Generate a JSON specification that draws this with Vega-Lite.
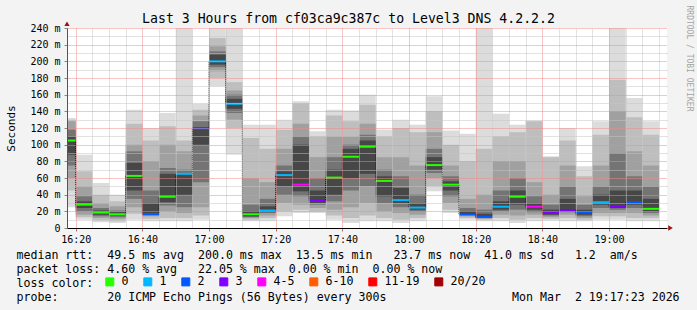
{
  "$schema": "https://vega.github.io/schema/vega-lite/v6.json",
  "width": 600,
  "height": 200,
  "autosize": {"type": "none"},
  "padding": {"left": 67, "top": 28, "right": 30, "bottom": 82},
  "background": "#f3f3f3",
  "config": {
    "view": {"stroke": null, "fill": "#ffffff"},
    "font": "DejaVu Sans Mono"
  },
  "title": {
    "text": "Last 3 Hours from cf03ca9c387c to Level3 DNS 4.2.2.2",
    "font": "DejaVu Sans Mono",
    "fontSize": 13.2,
    "fontWeight": "normal",
    "color": "#000000",
    "anchor": "middle",
    "baseline": "alphabetic",
    "dx": -18.5,
    "dy": 31.5,
    "offset": 0
  },
  "data": {
    "format": {"parse": {"t": "date", "e": "date"}},
    "values": [
      {"t": "2026-03-02T16:15", "e": "2026-03-02T16:20", "med": 105, "loss": "0", "l1": 25, "h1": 132, "l2": 45, "h2": 130, "l3": 60, "h3": 128, "l4": 75, "h4": 118, "l5": 88, "h5": 110},
      {"t": "2026-03-02T16:20", "e": "2026-03-02T16:25", "med": 28, "loss": "0", "l1": 10, "h1": 88, "l2": 13, "h2": 68, "l3": 16, "h3": 50, "l4": 20, "h4": 38, "l5": 24, "h5": 32},
      {"t": "2026-03-02T16:25", "e": "2026-03-02T16:30", "med": 18.5, "loss": "0", "l1": 7, "h1": 54, "l2": 9, "h2": 40, "l3": 12, "h3": 30, "l4": 14, "h4": 24, "l5": 16, "h5": 21},
      {"t": "2026-03-02T16:30", "e": "2026-03-02T16:35", "med": 16.5, "loss": "0", "l1": 6, "h1": 40, "l2": 8, "h2": 32, "l3": 11, "h3": 26, "l4": 13, "h4": 21, "l5": 15, "h5": 19},
      {"t": "2026-03-02T16:35", "e": "2026-03-02T16:40", "med": 62.5, "loss": "0", "l1": 10, "h1": 142, "l2": 17, "h2": 125, "l3": 25, "h3": 100, "l4": 35, "h4": 92, "l5": 45, "h5": 78},
      {"t": "2026-03-02T16:40", "e": "2026-03-02T16:45", "med": 16.5, "loss": "2", "l1": 8, "h1": 120, "l2": 11, "h2": 105, "l3": 14, "h3": 80, "l4": 16, "h4": 45, "l5": 18, "h5": 30},
      {"t": "2026-03-02T16:45", "e": "2026-03-02T16:50", "med": 37.5, "loss": "0", "l1": 8, "h1": 138, "l2": 12, "h2": 122, "l3": 20, "h3": 100, "l4": 27, "h4": 72, "l5": 31, "h5": 65},
      {"t": "2026-03-02T16:50", "e": "2026-03-02T16:55", "med": 65, "loss": "1", "l1": 8, "h1": 240, "l2": 12, "h2": 105, "l3": 18, "h3": 92, "l4": 25, "h4": 70, "l5": 40, "h5": 66},
      {"t": "2026-03-02T16:55", "e": "2026-03-02T17:00", "med": 119, "loss": "2", "l1": 10, "h1": 149, "l2": 15, "h2": 142, "l3": 25, "h3": 135, "l4": 55, "h4": 128, "l5": 100, "h5": 121},
      {"t": "2026-03-02T17:00", "e": "2026-03-02T17:05", "med": 200, "loss": "1", "l1": 170, "h1": 240, "l2": 180, "h2": 228, "l3": 188, "h3": 218, "l4": 193, "h4": 212, "l5": 196, "h5": 208},
      {"t": "2026-03-02T17:05", "e": "2026-03-02T17:10", "med": 149, "loss": "1", "l1": 88, "h1": 240, "l2": 120, "h2": 175, "l3": 130, "h3": 165, "l4": 138, "h4": 160, "l5": 143, "h5": 155},
      {"t": "2026-03-02T17:10", "e": "2026-03-02T17:15", "med": 16.5, "loss": "0", "l1": 8, "h1": 124, "l2": 10, "h2": 108, "l3": 12, "h3": 60, "l4": 13, "h4": 28, "l5": 14, "h5": 20},
      {"t": "2026-03-02T17:15", "e": "2026-03-02T17:20", "med": 21, "loss": "1", "l1": 8, "h1": 124, "l2": 12, "h2": 95, "l3": 15, "h3": 55, "l4": 18, "h4": 35, "l5": 19, "h5": 26},
      {"t": "2026-03-02T17:20", "e": "2026-03-02T17:25", "med": 63.5, "loss": "1", "l1": 14, "h1": 130, "l2": 20, "h2": 118, "l3": 30, "h3": 95, "l4": 40, "h4": 75, "l5": 50, "h5": 68},
      {"t": "2026-03-02T17:25", "e": "2026-03-02T17:30", "med": 52, "loss": "4-5", "l1": 18, "h1": 152, "l2": 22, "h2": 150, "l3": 28, "h3": 125, "l4": 38, "h4": 110, "l5": 44, "h5": 100},
      {"t": "2026-03-02T17:30", "e": "2026-03-02T17:35", "med": 33, "loss": "3", "l1": 18, "h1": 116, "l2": 20, "h2": 110, "l3": 24, "h3": 85, "l4": 28, "h4": 60, "l5": 30, "h5": 45},
      {"t": "2026-03-02T17:35", "e": "2026-03-02T17:40", "med": 60.5, "loss": "0", "l1": 10, "h1": 142, "l2": 15, "h2": 135, "l3": 22, "h3": 110, "l4": 32, "h4": 85, "l5": 40, "h5": 70},
      {"t": "2026-03-02T17:40", "e": "2026-03-02T17:45", "med": 85.5, "loss": "0", "l1": 6, "h1": 141, "l2": 12, "h2": 128, "l3": 25, "h3": 110, "l4": 45, "h4": 100, "l5": 60, "h5": 95},
      {"t": "2026-03-02T17:45", "e": "2026-03-02T17:50", "med": 97.5, "loss": "0", "l1": 8, "h1": 160, "l2": 15, "h2": 148, "l3": 30, "h3": 125, "l4": 50, "h4": 112, "l5": 65, "h5": 105},
      {"t": "2026-03-02T17:50", "e": "2026-03-02T17:55", "med": 56.5, "loss": "0", "l1": 8, "h1": 118, "l2": 12, "h2": 110, "l3": 20, "h3": 85, "l4": 30, "h4": 70, "l5": 38, "h5": 62},
      {"t": "2026-03-02T17:55", "e": "2026-03-02T18:00", "med": 33.5, "loss": "1", "l1": 6, "h1": 130, "l2": 10, "h2": 120, "l3": 18, "h3": 85, "l4": 25, "h4": 62, "l5": 30, "h5": 48},
      {"t": "2026-03-02T18:00", "e": "2026-03-02T18:05", "med": 24.5, "loss": "1", "l1": 8, "h1": 124, "l2": 12, "h2": 115, "l3": 16, "h3": 75, "l4": 20, "h4": 40, "l5": 22, "h5": 30},
      {"t": "2026-03-02T18:05", "e": "2026-03-02T18:10", "med": 75.5, "loss": "0", "l1": 44, "h1": 158, "l2": 50, "h2": 140, "l3": 60, "h3": 115, "l4": 66, "h4": 95, "l5": 70, "h5": 85},
      {"t": "2026-03-02T18:10", "e": "2026-03-02T18:15", "med": 52, "loss": "0", "l1": 18, "h1": 117, "l2": 22, "h2": 100, "l3": 30, "h3": 75, "l4": 38, "h4": 62, "l5": 45, "h5": 56},
      {"t": "2026-03-02T18:15", "e": "2026-03-02T18:20", "med": 16.5, "loss": "2", "l1": 10, "h1": 113, "l2": 12, "h2": 80, "l3": 14, "h3": 35, "l4": 15, "h4": 24, "l5": 16, "h5": 20},
      {"t": "2026-03-02T18:20", "e": "2026-03-02T18:25", "med": 13.5, "loss": "2", "l1": 8, "h1": 240, "l2": 10, "h2": 95, "l3": 11, "h3": 40, "l4": 12, "h4": 22, "l5": 13, "h5": 17},
      {"t": "2026-03-02T18:25", "e": "2026-03-02T18:30", "med": 25.5, "loss": "1", "l1": 8, "h1": 137, "l2": 12, "h2": 110, "l3": 16, "h3": 80, "l4": 20, "h4": 45, "l5": 22, "h5": 32},
      {"t": "2026-03-02T18:30", "e": "2026-03-02T18:35", "med": 37.5, "loss": "0", "l1": 6, "h1": 124, "l2": 10, "h2": 115, "l3": 15, "h3": 80, "l4": 22, "h4": 60, "l5": 28, "h5": 45},
      {"t": "2026-03-02T18:35", "e": "2026-03-02T18:40", "med": 25.5, "loss": "4-5", "l1": 8, "h1": 129, "l2": 12, "h2": 128, "l3": 16, "h3": 55, "l4": 19, "h4": 38, "l5": 22, "h5": 30},
      {"t": "2026-03-02T18:40", "e": "2026-03-02T18:45", "med": 18.5, "loss": "3", "l1": 9, "h1": 86, "l2": 11, "h2": 85, "l3": 13, "h3": 40, "l4": 15, "h4": 28, "l5": 16, "h5": 22},
      {"t": "2026-03-02T18:45", "e": "2026-03-02T18:50", "med": 21.5, "loss": "3", "l1": 8, "h1": 120, "l2": 12, "h2": 105, "l3": 16, "h3": 75, "l4": 19, "h4": 50, "l5": 20, "h5": 35},
      {"t": "2026-03-02T18:50", "e": "2026-03-02T18:55", "med": 18.5, "loss": "2", "l1": 8, "h1": 74, "l2": 10, "h2": 62, "l3": 12, "h3": 38, "l4": 14, "h4": 28, "l5": 16, "h5": 22},
      {"t": "2026-03-02T18:55", "e": "2026-03-02T19:00", "med": 31, "loss": "1", "l1": 10, "h1": 128, "l2": 14, "h2": 112, "l3": 18, "h3": 75, "l4": 24, "h4": 50, "l5": 28, "h5": 40},
      {"t": "2026-03-02T19:00", "e": "2026-03-02T19:05", "med": 25.5, "loss": "3", "l1": 10, "h1": 240, "l2": 14, "h2": 178, "l3": 18, "h3": 140, "l4": 22, "h4": 90, "l5": 24, "h5": 45},
      {"t": "2026-03-02T19:05", "e": "2026-03-02T19:10", "med": 31, "loss": "2", "l1": 8, "h1": 156, "l2": 12, "h2": 133, "l3": 18, "h3": 92, "l4": 24, "h4": 62, "l5": 28, "h5": 45},
      {"t": "2026-03-02T19:10", "e": "2026-03-02T19:15", "med": 23, "loss": "0", "l1": 8, "h1": 128, "l2": 12, "h2": 112, "l3": 15, "h3": 75, "l4": 18, "h4": 50, "l5": 20, "h5": 35}
    ]
  },
  "resolve": {"axis": {"x": "independent", "y": "independent"}},
  "layer": [
    {
      "mark": {"type": "bar", "color": "#dcdcdc", "clip": true, "strokeWidth": 0},
      "encoding": {
        "x": {
          "field": "t", "type": "temporal",
          "scale": {"domain": [{"year": 2026, "month": 3, "date": 2, "hours": 16, "minutes": 17, "seconds": 23}, {"year": 2026, "month": 3, "date": 2, "hours": 19, "minutes": 17, "seconds": 23}]},
          "axis": {"orient": "top",
            "values": [
              {"year": 2026, "month": 3, "date": 2, "hours": 16, "minutes": 25}, {"year": 2026, "month": 3, "date": 2, "hours": 16, "minutes": 30}, {"year": 2026, "month": 3, "date": 2, "hours": 16, "minutes": 35},
              {"year": 2026, "month": 3, "date": 2, "hours": 16, "minutes": 45}, {"year": 2026, "month": 3, "date": 2, "hours": 16, "minutes": 50}, {"year": 2026, "month": 3, "date": 2, "hours": 16, "minutes": 55},
              {"year": 2026, "month": 3, "date": 2, "hours": 17, "minutes": 5}, {"year": 2026, "month": 3, "date": 2, "hours": 17, "minutes": 10}, {"year": 2026, "month": 3, "date": 2, "hours": 17, "minutes": 15},
              {"year": 2026, "month": 3, "date": 2, "hours": 17, "minutes": 25}, {"year": 2026, "month": 3, "date": 2, "hours": 17, "minutes": 30}, {"year": 2026, "month": 3, "date": 2, "hours": 17, "minutes": 35},
              {"year": 2026, "month": 3, "date": 2, "hours": 17, "minutes": 45}, {"year": 2026, "month": 3, "date": 2, "hours": 17, "minutes": 50}, {"year": 2026, "month": 3, "date": 2, "hours": 17, "minutes": 55},
              {"year": 2026, "month": 3, "date": 2, "hours": 18, "minutes": 5}, {"year": 2026, "month": 3, "date": 2, "hours": 18, "minutes": 10}, {"year": 2026, "month": 3, "date": 2, "hours": 18, "minutes": 15},
              {"year": 2026, "month": 3, "date": 2, "hours": 18, "minutes": 25}, {"year": 2026, "month": 3, "date": 2, "hours": 18, "minutes": 30}, {"year": 2026, "month": 3, "date": 2, "hours": 18, "minutes": 35},
              {"year": 2026, "month": 3, "date": 2, "hours": 18, "minutes": 45}, {"year": 2026, "month": 3, "date": 2, "hours": 18, "minutes": 50}, {"year": 2026, "month": 3, "date": 2, "hours": 18, "minutes": 55},
              {"year": 2026, "month": 3, "date": 2, "hours": 19, "minutes": 5}, {"year": 2026, "month": 3, "date": 2, "hours": 19, "minutes": 10}, {"year": 2026, "month": 3, "date": 2, "hours": 19, "minutes": 15}
            ],
            "labels": false, "ticks": false, "domain": false, "grid": true, "gridColor": "#c4c4c4", "gridDash": [1, 1], "gridWidth": 1, "title": null, "zindex": 1}
        },
        "x2": {"field": "e"},
        "y": {
          "field": "l1", "type": "quantitative",
          "scale": {"domain": [0, 240], "nice": false, "zero": false},
          "axis": {"orient": "right", "values": [10, 30, 50, 70, 90, 110, 130, 150, 170, 190, 210, 230], "labels": false, "ticks": false, "domain": false, "grid": true, "gridColor": "#c4c4c4", "gridDash": [1, 1], "gridWidth": 1, "zindex": 1,
            "title": "RRDTOOL / TOBI OETIKER", "titleAngle": 90, "titleX": 21.5, "titleY": -23, "titleAlign": "left", "titleBaseline": "middle", "titleFont": "DejaVu Sans Mono", "titleFontSize": 8, "titleFontWeight": "normal", "titleColor": "#a4a4a4"}
        },
        "y2": {"field": "h1"}
      }
    },
    {
      "mark": {"type": "bar", "color": "#bebebe", "clip": true, "strokeWidth": 0},
      "encoding": {
        "x": {
          "field": "t", "type": "temporal",
          "axis": {"orient": "bottom",
            "values": [
              {"year": 2026, "month": 3, "date": 2, "hours": 16, "minutes": 20}, {"year": 2026, "month": 3, "date": 2, "hours": 16, "minutes": 40}, {"year": 2026, "month": 3, "date": 2, "hours": 17, "minutes": 0},
              {"year": 2026, "month": 3, "date": 2, "hours": 17, "minutes": 20}, {"year": 2026, "month": 3, "date": 2, "hours": 17, "minutes": 40}, {"year": 2026, "month": 3, "date": 2, "hours": 18, "minutes": 0},
              {"year": 2026, "month": 3, "date": 2, "hours": 18, "minutes": 20}, {"year": 2026, "month": 3, "date": 2, "hours": 18, "minutes": 40}, {"year": 2026, "month": 3, "date": 2, "hours": 19, "minutes": 0}
            ],
            "format": "%H:%M", "labelFont": "DejaVu Sans Mono", "labelFontSize": 10, "labelColor": "#000000", "labelPadding": 3, "labelFlush": false, "labelOverlap": false,
            "grid": true, "gridColor": "#f08888", "gridDash": [1, 1], "gridWidth": 1, "domainColor": "#000000", "domainWidth": 1, "tickColor": "#d06a6a", "tickSize": 3, "zindex": 1,
            "title": [
              "median\u00a0rtt:\u00a0\u00a049.5\u00a0ms\u00a0avg\u00a0\u00a0200.0\u00a0ms\u00a0max\u00a0\u00a013.5\u00a0ms\u00a0min\u00a0\u00a0\u00a023.7\u00a0ms\u00a0now\u00a0\u00a041.0\u00a0ms\u00a0sd\u00a0\u00a0\u00a01.2\u00a0\u00a0am/s",
              "packet\u00a0loss:\u00a04.60\u00a0%\u00a0avg\u00a0\u00a0\u00a022.05\u00a0%\u00a0max\u00a0\u00a00.00\u00a0%\u00a0min\u00a0\u00a00.00\u00a0%\u00a0now",
              "loss\u00a0color:",
              "probe:\u00a0\u00a0\u00a0\u00a0\u00a0\u00a0\u00a020\u00a0ICMP\u00a0Echo\u00a0Pings\u00a0(56\u00a0Bytes)\u00a0every\u00a0300s\u00a0\u00a0\u00a0\u00a0\u00a0\u00a0\u00a0\u00a0\u00a0\u00a0\u00a0\u00a0\u00a0\u00a0\u00a0\u00a0\u00a0\u00a0Mon\u00a0Mar\u00a0\u00a02\u00a019:17:23\u00a02026"
            ],
            "titleFont": "DejaVu Sans Mono", "titleFontSize": 11.6, "titleFontWeight": "normal", "titleColor": "#000000", "titleAlign": "left", "titleAnchor": "start", "titleBaseline": "top", "titleLineHeight": 14, "titleX": -51, "titleY": 21.5, "titleLimit": 1000}
        },
        "x2": {"field": "e"},
        "y": {
          "field": "l2", "type": "quantitative",
          "axis": {"orient": "left", "values": [0, 20, 40, 60, 80, 100, 120, 140, 160, 180, 200, 220, 240], "labelExpr": "datum.value == 0 ? '0  ' : datum.value + ' m'", "labelFont": "DejaVu Sans Mono", "labelFontSize": 10, "labelColor": "#000000", "labelPadding": 4,
            "grid": true, "gridColor": "#f08888", "gridDash": [1, 1], "gridWidth": 1, "domainColor": "#555555", "domainWidth": 1, "tickColor": "#888888", "tickSize": 3, "zindex": 1,
            "title": "Seconds", "titleFont": "DejaVu Sans Mono", "titleFontSize": 11, "titleFontWeight": "normal", "titleColor": "#000000", "titleAngle": 270, "titleX": -56, "titleY": 100, "titleAlign": "center", "titleBaseline": "middle"}
        },
        "y2": {"field": "h2"}
      }
    },
    {
      "mark": {"type": "bar", "color": "#a0a0a0", "clip": true, "strokeWidth": 0},
      "encoding": {
        "x": {"field": "t", "type": "temporal", "axis": null},
        "x2": {"field": "e"},
        "y": {"field": "l3", "type": "quantitative", "axis": null},
        "y2": {"field": "h3"}
      }
    },
    {
      "mark": {"type": "bar", "color": "#747474", "clip": true, "strokeWidth": 0},
      "encoding": {
        "x": {"field": "t", "type": "temporal", "axis": null},
        "x2": {"field": "e"},
        "y": {"field": "l4", "type": "quantitative", "axis": null},
        "y2": {"field": "h4"}
      }
    },
    {
      "mark": {"type": "bar", "color": "#474747", "clip": true, "strokeWidth": 0},
      "encoding": {
        "x": {"field": "t", "type": "temporal", "axis": null},
        "x2": {"field": "e"},
        "y": {"field": "l5", "type": "quantitative", "axis": null},
        "y2": {"field": "h5"}
      }
    },
    {
      "mark": {"type": "line", "interpolate": "step-after", "color": "#000000", "strokeWidth": 1, "strokeDash": [1, 1], "clip": true},
      "encoding": {
        "x": {"field": "t", "type": "temporal", "axis": null},
        "y": {"field": "med", "type": "quantitative", "axis": null}
      }
    },
    {
      "mark": {"type": "rule", "strokeWidth": 2, "clip": true},
      "encoding": {
        "x": {"field": "t", "type": "temporal", "axis": null},
        "x2": {"field": "e"},
        "y": {"field": "med", "type": "quantitative", "axis": null},
        "color": {
          "field": "loss", "type": "nominal",
          "scale": {"domain": ["0", "1", "2", "3", "4-5", "6-10", "11-19", "20/20"], "range": ["#26ff00", "#00b8ff", "#0059ff", "#7e00ff", "#ff00ff", "#ff5e00", "#ff0000", "#a10000"]},
          "legend": {
            "orient": "none", "legendX": 37, "legendY": 248, "direction": "horizontal",
            "title": null,
            "labelFont": "DejaVu Sans Mono", "labelFontSize": 11.6, "labelColor": "#000000", "labelOffset": 6, "columnPadding": 12, "padding": 0,
            "symbolType": "square", "symbolSize": 64, "symbolStrokeWidth": 1, "symbolStrokeColor": "#000000",
            "encode": {"symbols": {"update": {"fill": {"scale": "color", "field": "value"}, "stroke": {"value": "#000000"}, "strokeWidth": {"value": 1}, "opacity": {"value": 1}}}}
          }
        }
      }
    },
    {
      "data": {"values": [{}]},
      "mark": {"type": "point", "shape": "triangle-up", "filled": true, "color": "#a01010", "opacity": 1, "size": 28},
      "encoding": {
        "x": {"datum": {"year": 2026, "month": 3, "date": 2, "hours": 16, "minutes": 17, "seconds": 23}, "type": "temporal", "axis": null},
        "y": {"datum": 245, "type": "quantitative", "axis": null}
      }
    },
    {
      "data": {"values": [{}]},
      "mark": {"type": "point", "shape": "triangle-right", "filled": true, "color": "#a01010", "opacity": 1, "size": 28},
      "encoding": {
        "x": {"datum": {"year": 2026, "month": 3, "date": 2, "hours": 19, "minutes": 18, "seconds": 26}, "type": "temporal", "axis": null},
        "y": {"datum": 0, "type": "quantitative", "axis": null}
      }
    }
  ]
}
